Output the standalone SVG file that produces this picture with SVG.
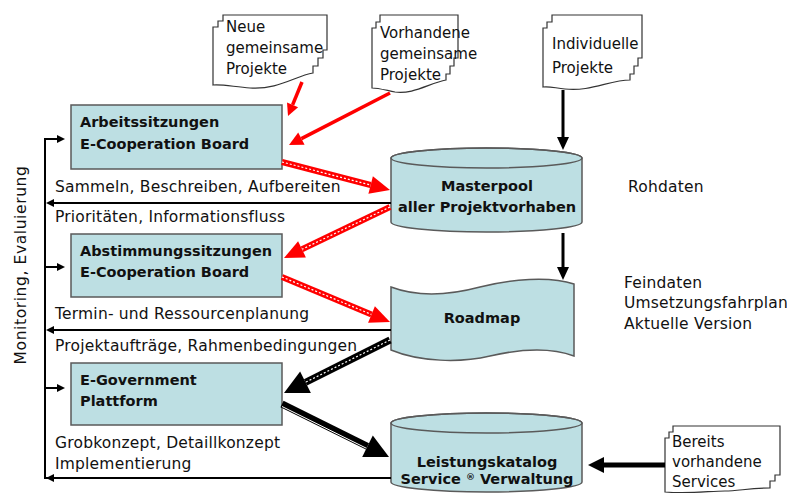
<svg xmlns="http://www.w3.org/2000/svg" width="787" height="493" viewBox="0 0 787 493">
<style>
.box{fill:#bddfe3;stroke:#5a5a5a;stroke-width:1.5}
.doc{fill:#fff;stroke:#333;stroke-width:1.2}
.b{font-family:"DejaVu Sans",Verdana,sans-serif;font-weight:bold;font-size:14.5px;fill:#111}
.t{font-family:"DejaVu Sans",Verdana,sans-serif;font-size:15.5px;fill:#111;letter-spacing:0.2px}
.d{font-family:"DejaVu Sans",Verdana,sans-serif;font-size:15px;fill:#111}
.ln{stroke:#000;stroke-width:2;fill:none}
.red{stroke:#f00;fill:none}
.blk{stroke:#000;fill:none}
.dash{stroke:#fff;stroke-width:1.2;stroke-dasharray:2 2;fill:none}
</style>
<rect width="787" height="493" fill="#fff"/>

<g id="doc-neue">
<path class="doc" d="M213,85 L213,27 L218,27 L218,21 L223,21 L223,15 L327,15 L327,50 L323,50 L323,58 L318,58 L318,66 L313,66 L313,73 C295,76 278,90 250,88 C235,87 222,84 213,85 Z"/>
<text class="d" x="226" y="32">Neue</text>
<text class="d" x="226" y="53">gemeinsame</text>
<text class="d" x="226" y="74">Projekte</text>
</g>

<g id="doc-vorhandene">
<path class="doc" d="M372,88 L372,28 L376,28 L376,22 L380,22 L380,15 L458,15 L458,58 L454,58 L454,66 L450,66 L450,74 L446,74 L446,80 C430,83 412,95 395,92 C385,90 378,88 372,88 Z"/>
<text class="d" x="380" y="38">Vorhandene</text>
<text class="d" x="380" y="59">gemeinsame</text>
<text class="d" x="380" y="80">Projekte</text>
</g>

<g id="doc-individuelle">
<path class="doc" d="M543,87 L543,28 L547,28 L547,22 L552,22 L552,15 L642,15 L642,58 L638,58 L638,66 L634,66 L634,74 L630,74 L630,80 C610,80 590,92 565,89 C555,88 549,86 543,87 Z"/>
<text class="d" x="552" y="49">Individuelle</text>
<text class="d" x="552" y="73">Projekte</text>
</g>

<g id="doc-bereits">
<path class="doc" d="M665,492 L665,438 L669,438 L669,432 L673,432 L673,426 L780,426 L780,475 L775,475 L775,481 L770,481 L770,488 C750,488 738,491 725,491 C710,491 690,494 665,492 Z"/>
<text class="d" x="672" y="447">Bereits</text>
<text class="d" x="672" y="467">vorhandene</text>
<text class="d" x="672" y="487">Services</text>
</g>

<g id="box-arbeit">
<rect class="box" x="71" y="105" width="211" height="64"/>
<text class="b" x="80" y="127">Arbeitssitzungen</text>
<text class="b" x="80" y="149">E-Cooperation Board</text>
</g>

<g id="box-abstimmung">
<rect class="box" x="71" y="234" width="211" height="63"/>
<text class="b" x="80" y="256">Abstimmungssitzungen</text>
<text class="b" x="80" y="277">E-Cooperation Board</text>
</g>

<g id="box-egov">
<rect class="box" x="71" y="363" width="211" height="62"/>
<text class="b" x="80" y="385">E-Government</text>
<text class="b" x="80" y="406">Plattform</text>
</g>

<g id="cyl-masterpool">
<path class="box" d="M391,158 L391,222 A95.5,10 0 0 0 582,222 L582,158 A95.5,10 0 0 0 391,158 Z"/>
<ellipse cx="486.5" cy="158" rx="95.5" ry="10" fill="none" stroke="#5a5a5a" stroke-width="1.5"/>
<text class="b" x="487" y="191" text-anchor="middle">Masterpool</text>
<text class="b" x="487" y="212" text-anchor="middle">aller Projektvorhaben</text>
</g>

<g id="roadmap">
<path class="box" d="M391,287 C420,298 450,295 480,287 C510,279 550,276 574,284 L574,356 C550,347 520,349 490,356 C460,363 420,362 391,350 Z"/>
<text class="b" x="482" y="323" text-anchor="middle">Roadmap</text>
</g>

<g id="cyl-leistung">
<path class="box" d="M391,423 L391,482 A95.5,10 0 0 0 582,482 L582,423 A95.5,10 0 0 0 391,423 Z"/>
<ellipse cx="486.5" cy="423" rx="95.5" ry="10" fill="none" stroke="#5a5a5a" stroke-width="1.5"/>
<text class="b" x="487" y="467" text-anchor="middle">Leistungskatalog</text>
<text class="b" x="487" y="484" text-anchor="middle">Service <tspan font-size="9" dy="-4">®</tspan><tspan dy="4"> Verwaltung</tspan></text>
</g>

<g id="side-labels">
<text class="t" x="628" y="192">Rohdaten</text>
<text class="t" x="624" y="288">Feindaten</text>
<text class="t" x="624" y="308">Umsetzungsfahrplan</text>
<text class="t" x="624" y="329">Aktuelle Version</text>
<text class="t" text-anchor="middle" transform="translate(26,265) rotate(-90)" style="letter-spacing:0.6px">Monitoring, Evaluierung</text>
</g>

<g id="flow-labels">
<text class="t" x="55" y="192">Sammeln, Beschreiben, Aufbereiten</text>
<text class="t" x="55" y="222">Prioritäten, Informationsfluss</text>
<text class="t" x="55" y="319">Termin- und Ressourcenplanung</text>
<text class="t" x="55" y="351">Projektaufträge, Rahmenbedingungen</text>
<text class="t" x="55" y="448">Grobkonzept, Detaillkonzept</text>
<text class="t" x="55" y="469">Implementierung</text>
</g>

<g id="connectors">
<!-- feedback loop -->
<path class="ln" d="M63,139 L45,139 L45,478 L391,478"/>
<path class="ln" d="M45,267 L63,267"/>
<path class="ln" d="M45,388 L63,388"/>
<path class="ln" d="M391,203 L52,203"/>
<path class="ln" d="M391,330 L52,330"/>
<path class="ln" d="M391,478 L52,478"/>
<polygon points="65,139 57,135 57,143"/>
<polygon points="65,267 57,263 57,271"/>
<polygon points="65,388 57,384 57,392"/>
<polygon points="46,203 54,199 54,207"/>
<polygon points="46,330 54,326 54,334"/>
<polygon points="46,478 54,474 54,482"/>

<!-- black vertical arrows -->
<line class="blk" x1="563" y1="90" x2="563" y2="138" stroke-width="3"/>
<polygon points="563,150 557,137 569,137"/>
<line class="blk" x1="563" y1="233" x2="563" y2="268" stroke-width="3"/>
<polygon points="563,280 557,267 569,267"/>
<line class="blk" x1="665" y1="465" x2="602" y2="465" stroke-width="5"/>
<polygon points="588,465 604,457 604,473"/>

<!-- thin red arrows -->
<line class="red" x1="302" y1="82" x2="292.6" y2="104.9" stroke-width="3.5"/>
<polygon fill="#f00" points="288,116 287,102.6 298.1,107.2"/>
<line class="red" x1="390" y1="93" x2="301.4" y2="138.6" stroke-width="3.5"/>
<polygon fill="#f00" points="289,145 298.2,132.4 304.6,144.8"/>

<!-- striped red arrows -->
<line class="red" x1="282" y1="162" x2="370.6" y2="185" stroke-width="6"/>
<line class="dash" x1="282" y1="162" x2="370.6" y2="185"/>
<polygon fill="#f00" points="390,190 368.4,193.7 372.9,176.3"/>

<line class="red" x1="390" y1="207" x2="302" y2="249.3" stroke-width="6"/>
<line class="dash" x1="390" y1="207" x2="302" y2="249.3"/>
<polygon fill="#f00" points="284,258 298.1,241.2 305.9,257.4"/>

<line class="red" x1="282" y1="277" x2="371.5" y2="314.5" stroke-width="6"/>
<line class="dash" x1="282" y1="277" x2="371.5" y2="314.5"/>
<polygon fill="#f00" points="390,322 368.1,322.8 374.9,306.2"/>

<!-- black striped arrows -->
<line class="blk" x1="390" y1="340" x2="305.5" y2="382.3" stroke-width="7"/>
<line class="dash" x1="390" y1="340" x2="305.5" y2="382.3"/>
<polygon points="284,393 300.1,371.6 310.9,393"/>

<line class="blk" x1="282" y1="404" x2="367.5" y2="446.3" stroke-width="7"/>
<line x1="282" y1="406.5" x2="367.5" y2="448.8" stroke="#fff" stroke-width="1"/>
<polygon points="389,457 362.2,457.1 372.8,435.6"/>
</g>
</svg>
